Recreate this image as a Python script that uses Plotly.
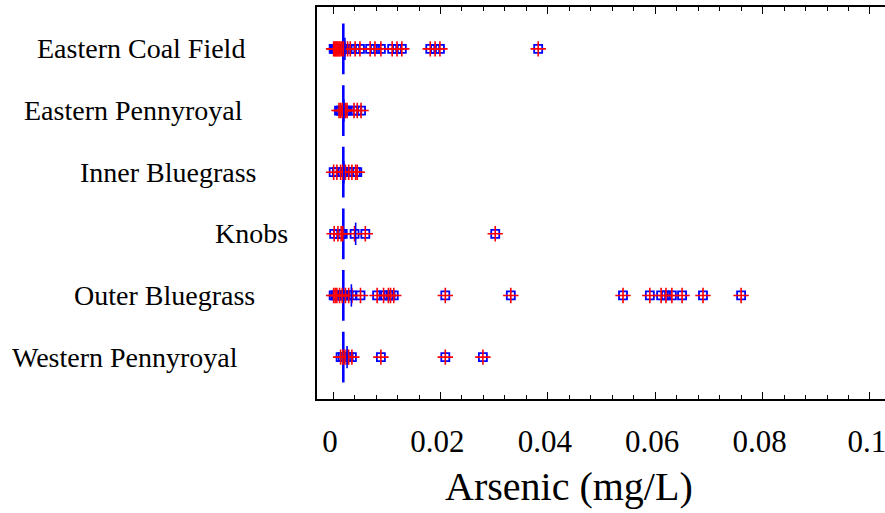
import plotly.graph_objects as go

# ---------------- data ----------------
categories = ["Eastern Coal Field", "Eastern Pennyroyal", "Inner Bluegrass",
              "Knobs", "Outer Bluegrass", "Western Pennyroyal"]

eastern_coal_field = [0.0001, 0.0003, 0.0005, 0.0007, 0.0009, 0.0011, 0.0013, 0.0016,
                      0.0019, 0.0022, 0.0027, 0.0032, 0.0041, 0.0050, 0.0069, 0.0078,
                      0.0089, 0.0110, 0.0119, 0.0128, 0.0181, 0.0190, 0.0199, 0.0382]
eastern_pennyroyal = [0.0011, 0.0014, 0.0017, 0.0020, 0.0023, 0.0026, 0.0039, 0.0045, 0.0052]
inner_bluegrass = [0.0001, 0.0007, 0.0014, 0.0018, 0.0023, 0.0029, 0.0035, 0.0042, 0.0045]
knobs = [0.0002, 0.0009, 0.0015, 0.0018, 0.0040, 0.0060, 0.0302]
outer_bluegrass = [0.0001, 0.0004, 0.0007, 0.0012, 0.0017, 0.0023, 0.0029, 0.0035, 0.0051,
                   0.0082, 0.0094, 0.0103, 0.0107, 0.0113, 0.0209, 0.0331, 0.0540, 0.0590,
                   0.0611, 0.0620, 0.0631, 0.0650, 0.0689, 0.0760]
western_pennyroyal = [0.0014, 0.0018, 0.0022, 0.0026, 0.0029, 0.0035, 0.0089, 0.0209, 0.0279]

series = [eastern_coal_field, eastern_pennyroyal, inner_bluegrass,
          knobs, outer_bluegrass, western_pennyroyal]

box_q1 = [0.0018, 0.0018, 0.0018, 0.0018, 0.0018, 0.0018]
box_median = [0.0018, 0.0018, 0.0018, 0.0018, 0.0018, 0.0018]
box_q3 = [0.0020, 0.0020, 0.0020, 0.0020, 0.0020, 0.0020]
group_means = [0.0022, 0.0020, 0.0020, 0.0042, 0.0034, 0.0026]

x_tick_vals = [0, 0.02, 0.04, 0.06, 0.08, 0.1]
x_tick_text = ["0", "0.02", "0.04", "0.06", "0.08", "0.1"]
x_title = "Arsenic (mg/L)"

# ---------------- figure ----------------
FONT = "Liberation Serif, Times New Roman, serif"
W, H = 885, 513
ML, MR, MT, MB = 317, 0, 7, 114

fig = go.Figure()

fig.add_trace(go.Box(
    orientation="h",
    y=categories,
    q1=box_q1, median=box_median, q3=box_q3,
    lowerfence=box_q1, upperfence=box_q3,
    width=0.8,
    line=dict(color="blue", width=1.5),
    fillcolor="rgba(0,0,0,0)",
    boxpoints=False,
    hoverinfo="skip",
    showlegend=False,
))

xs, ys = [], []
for cat, vals in zip(categories, series):
    xs.extend(vals)
    ys.extend([cat] * len(vals))

fig.add_trace(go.Scatter(
    x=xs, y=ys, mode="markers",
    marker=dict(symbol="square-open", size=8, color="blue",
                line=dict(color="blue", width=1.8)),
    showlegend=False, hoverinfo="x+y",
))
fig.add_trace(go.Scatter(
    x=xs, y=ys, mode="markers",
    marker=dict(symbol="cross-thin-open", size=11, color="red",
                line=dict(color="red", width=1.6)),
    showlegend=False, hoverinfo="skip",
))
fig.add_trace(go.Scatter(
    x=group_means, y=categories, mode="markers",
    marker=dict(symbol="line-ns-open", size=16, color="blue",
                line=dict(color="blue", width=1.6)),
    showlegend=False, hoverinfo="x+y",
))

# category labels (left-anchored like the reference)
label_left_px = [35, 22, 78, 213, 72, 10]
plot_w = W - ML - MR
plot_h = H - MT - MB
annotations = []
for i, (cat, px) in enumerate(zip(categories, label_left_px)):
    annotations.append(dict(
        text=cat, xref="paper", yref="y", x=(px - ML) / plot_w, y=i,
        xanchor="left", yanchor="middle", showarrow=False,
        font=dict(family=FONT, size=28, color="black"),
    ))
annotations.append(dict(
    text=x_title, xref="paper", yref="paper",
    x=(443 - ML) / plot_w, y=-(486 - (H - MB)) / plot_h,
    xanchor="left", yanchor="middle", showarrow=False,
    font=dict(family=FONT, size=40, color="black"),
))

fig.update_layout(
    width=W, height=H,
    margin=dict(l=ML, r=MR, t=MT, b=MB, pad=0, autoexpand=False),
    paper_bgcolor="white", plot_bgcolor="white",
    showlegend=False,
    annotations=annotations,
    xaxis=dict(
        range=[-0.003, 0.1028],
        automargin=False,
        tickvals=x_tick_vals, ticktext=x_tick_text,
        ticks="inside", ticklen=7, tickwidth=1, tickcolor="black",
        minor=dict(dtick=0.004, tick0=0, ticks="inside", ticklen=4,
                   tickwidth=1, tickcolor="black", showgrid=False),
        showline=True, linecolor="black", linewidth=2, mirror="ticks",
        showgrid=False, zeroline=False,
        tickfont=dict(family=FONT, size=31, color="black"),
        ticklabelstandoff=14,
        ticklabelshift=-3,
        ticklabeloverflow="allow",
    ),
    yaxis=dict(
        type="category",
        automargin=False,
        categoryorder="array", categoryarray=categories,
        range=[5.68, -0.68],
        showticklabels=False, ticks="",
        showline=True, linecolor="black", linewidth=2, mirror=False,
        showgrid=False, zeroline=False,
    ),
)

fig.write_html(
    "out.html",
    config={"displayModeBar": False},
    post_script="document.body.style.margin='0';document.body.style.overflow='hidden';",
)
